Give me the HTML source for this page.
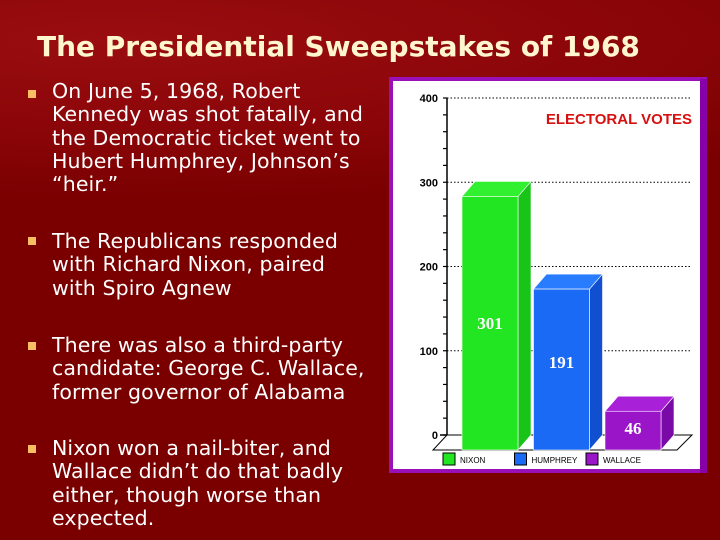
<!DOCTYPE html>
<html><head><meta charset="utf-8"><style>
body{margin:0;width:720px;height:540px;overflow:hidden;background:#7d0000;font-family:"DejaVu Sans","Liberation Sans",sans-serif;}
#bg{position:absolute;left:0;top:0;width:720px;height:540px;background:radial-gradient(ellipse 900px 160px at 120px 40px,#9a0d10 0%,#8a0508 60%,#7a0000 100%);}
h1{position:absolute;left:37px;top:30px;margin:0;font-size:28px;font-weight:bold;color:#fff6cf;white-space:nowrap}
.b{position:absolute;left:52px;color:#fff;font-size:20.5px;line-height:23.3px;white-space:nowrap;letter-spacing:0.1px}
.sq{position:absolute;left:28px;width:8px;height:8px;background:#f7bf62}
svg{position:absolute;left:0;top:0}
</style></head><body>
<div id="bg"></div>
<h1>The Presidential Sweepstakes of 1968</h1>
<div class="sq" style="top:90px"></div>
<div class="b" style="top:80px">On June 5, 1968, Robert<br>Kennedy was shot fatally, and<br>the Democratic ticket went to<br>Hubert Humphrey, Johnson’s<br>“heir.”</div>
<div class="sq" style="top:237px"></div>
<div class="b" style="top:230px">The Republicans responded<br>with Richard Nixon, paired<br>with Spiro Agnew</div>
<div class="sq" style="top:342px"></div>
<div class="b" style="top:334px">There was also a third-party<br>candidate: George C. Wallace,<br>former governor of Alabama</div>
<div class="sq" style="top:445px"></div>
<div class="b" style="top:437px">Nixon won a nail-biter, and<br>Wallace didn’t do that badly<br>either, though worse than<br>expected.</div>
<svg id="chart" width="720" height="540"></svg>
<script>
const categories=["NIXON","HUMPHREY","WALLACE"];
const votes=[301,191,46];
const yTicks=[0,100,200,300,400];
const colors=["#22e622","#1a6af5","#9a14c8"];
const sideColors=["#18c418","#1050d0","#7a0aa8"];
const topColors=["#30f030","#2a7cff","#a820d8"];
const svg=document.getElementById('chart');
const NS="http://www.w3.org/2000/svg";
function el(t,a,p){const e=document.createElementNS(NS,t);for(const k in a)e.setAttribute(k,a[k]);(p||svg).appendChild(e);return e;}
function y(v){return 435-v*0.8425;}
const barX=i=>462+i*71.5, barW=56, dx=13, dy=15;
let f=el('rect',{x:391,y:79,width:314,height:392,fill:'#fff',stroke:'#9a10b8','stroke-width':4});

let r=el('rect',{x:700,y:79,width:7,height:394,fill:'#8800a8'});

yTicks.forEach(t=>{
  if(t>0){let g=el('line',{x1:447,x2:692,y1:y(t),y2:y(t),stroke:'#000','stroke-dasharray':'1.5,2','stroke-width':1});
  }
  let tx=el('text',{x:438,y:y(t)+4,'text-anchor':'end','font-size':11,'font-weight':'bold','font-family':'Liberation Sans, sans-serif',fill:'#000'});
  tx.textContent=t;
  
});
for(let v=0;v<=400;v+=20){let m=el('line',{x1:443,x2:447,y1:y(v),y2:y(v),stroke:'#000','stroke-width':1.2});
}
let ax=el('line',{x1:447,x2:447,y1:y(400),y2:y(0),stroke:'#000','stroke-width':1.5});

let fl=el('polygon',{points:`433,450 677,450 692,435 447,435`,fill:'#fff',stroke:'#000','stroke-width':1});

let t0=el('line',{x1:440,x2:447,y1:435,y2:435,stroke:'#000','stroke-width':1.5});

votes.forEach((v,i)=>{
  const x=barX(i), top=y(v)+dy, bot=y(0)+dy;
  let s=el('polygon',{points:`${x+barW},${top} ${x+barW+dx},${top-dy} ${x+barW+dx},${bot-dy} ${x+barW},${bot}`,fill:sideColors[i],stroke:'#fff','stroke-width':0.6});
  
  let tp=el('polygon',{points:`${x},${top} ${x+dx},${top-dy} ${x+barW+dx},${top-dy} ${x+barW},${top}`,fill:topColors[i],stroke:'#fff','stroke-width':0.6});
  
  let b=el('rect',{x:x,y:top,width:barW,height:bot-top,fill:colors[i],stroke:'#fff','stroke-width':0.6});
  
  let lt=el('text',{x:x+barW/2,y:i==0?329:(i==1?368:434),'text-anchor':'middle','font-size':17,'font-weight':'bold','font-family':'Liberation Serif, serif',fill:'#fff'});
  lt.textContent=v;
  
  const lx=443+i*71.5;
  let ls=el('rect',{x:lx,y:453,width:12,height:12,fill:colors[i],stroke:'#000','stroke-width':1});
  
  let ltx=el('text',{x:lx+17,y:463,'font-size':8,'font-family':'Liberation Sans, sans-serif',fill:'#000'});
  ltx.textContent=categories[i];
  
});
let ti=el('text',{x:692,y:124,'text-anchor':'end','font-size':15,'font-weight':'bold','font-family':'Liberation Sans, sans-serif',fill:'#d81010'});
ti.textContent="ELECTORAL VOTES";

</script>
</body></html>
